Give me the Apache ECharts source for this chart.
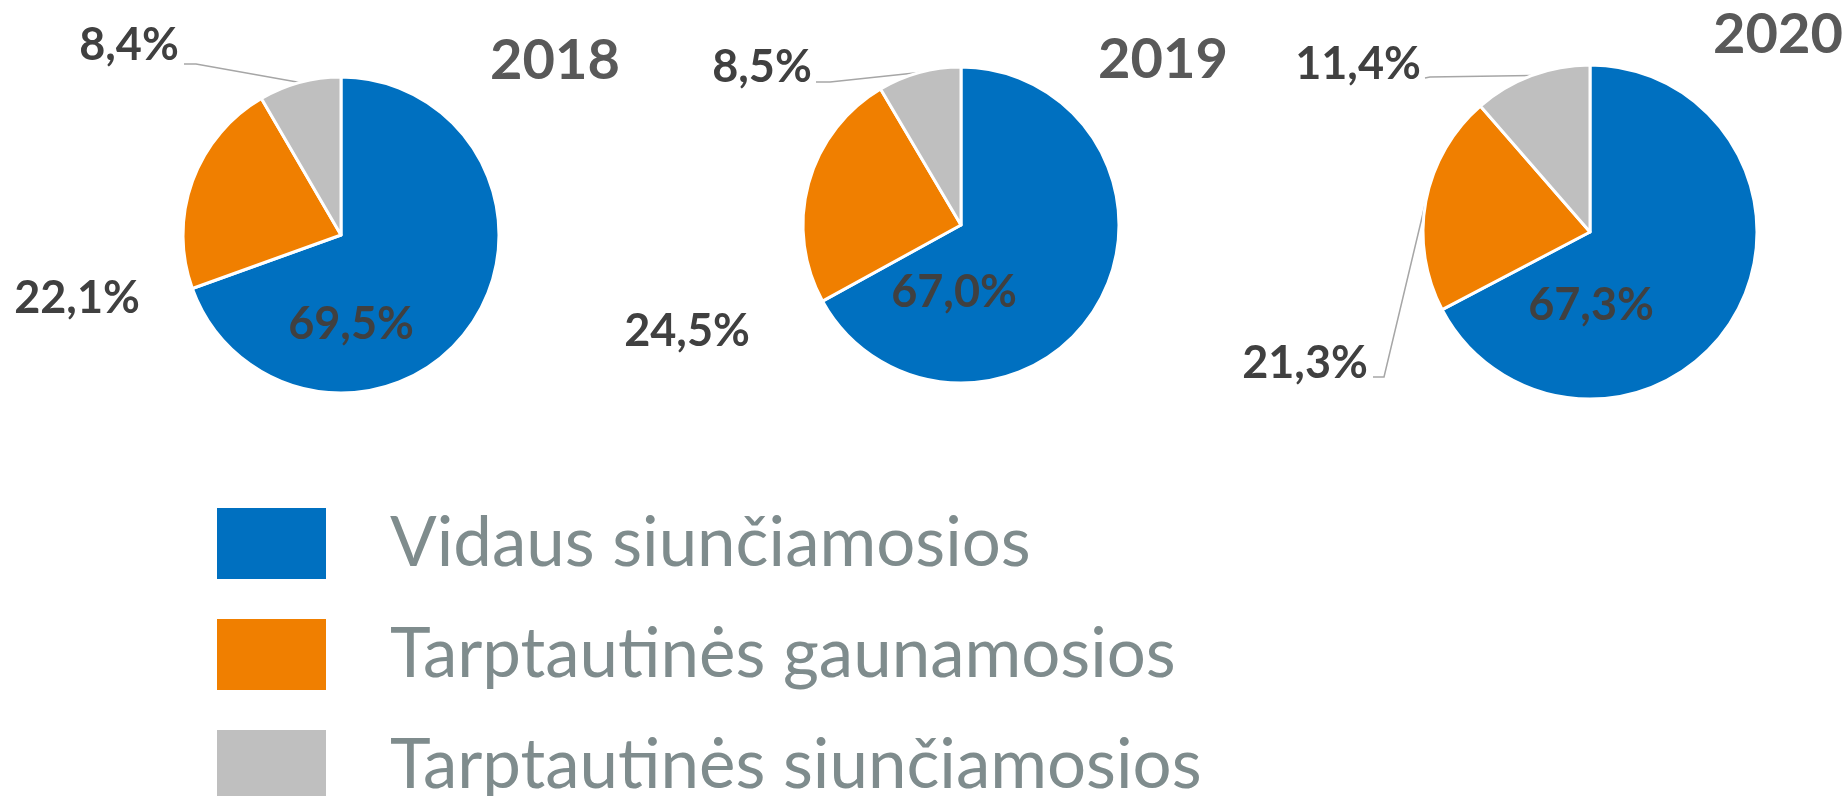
<!DOCTYPE html>
<html>
<head>
<meta charset="utf-8">
<title>Siuntos 2018-2020</title>
<script src="https://cdn.jsdelivr.net/npm/echarts@6/dist/echarts.min.js"></script>
<style>
  html, body { margin: 0; padding: 0; background: #fff; }
  #chart { width: 1845px; height: 796px; }
</style>
</head>
<body>
<div id="chart"></div>
<script>
const years = ["2018", "2019", "2020"];
const categories = ["Vidaus siunčiamosios", "Tarptautinės gaunamosios", "Tarptautinės siunčiamosios"];
const vidausSiunc = [69.5, 67.0, 67.3];
const tarptGaun = [22.1, 24.5, 21.3];
const tarptSiunc = [8.4, 8.5, 11.4];

const colors = ["#0070C0", "#F07F00", "#BFBFBF"];

// pie placement
const pieCenters = [[341, 235], [961, 225], [1590, 232]];
const pieRadius = [158, 158, 167];
const yearPos = [[555, 61], [1163, 60], [1778, 35]];
// label anchors per pie, order: vidaus, gaunamosios, siunciamosios
const labelPos = [
  [[351, 324], [77, 298], [129, 45]],
  [[954, 292], [687, 331], [762, 67]],
  [[1591, 305], [1305, 363], [1358, 64]],
];
// leader lines (elbow, end), null = no line
const leaders = [
  [null, null, [[196, 64], [184, 64]]],
  [null, null, [[830, 82], [816, 82]]],
  [null, [[1384, 377], [1373, 377]], [[1430, 77], [1425, 78]]],
];

const seriesValues = [vidausSiunc, tarptGaun, tarptSiunc];

function fmt(v) {
  return v.toFixed(1).replace(".", ",") + "%";
}

const chart = echarts.init(document.getElementById("chart"));

const series = years.map((year, i) => ({
  type: "pie",
  name: year,
  center: pieCenters[i],
  radius: pieRadius[i],
  startAngle: 90,
  clockwise: true,
  avoidLabelOverlap: false,
  silent: true,
  itemStyle: { borderColor: "#fff", borderWidth: 3 },
  label: {
    show: true,
    formatter: (p) => fmt(p.value),
    fontFamily: "Lato",
    fontWeight: "bold",
    fontSize: 45,
    color: "#404040",
  },
  labelLine: { show: false, lineStyle: { color: "#A6A6A6", width: 1.5 } },
  data: categories.map((name, k) => ({
    name: name,
    value: seriesValues[k][i],
    label: { position: k === 0 ? "inside" : "outside" },
    labelLine: { show: !!leaders[i][k], length: 10, length2: 10 },
  })),
  labelLayout: function (params) {
    const p = labelPos[i][params.dataIndex];
    const res = { x: p[0], y: p[1], align: "center", verticalAlign: "middle" };
    const l = leaders[i][params.dataIndex];
    if (l && params.labelLinePoints) {
      res.labelLinePoints = [params.labelLinePoints[0], l[0], l[1]];
    }
    return res;
  },
}));

chart.setOption({
  animation: false,
  color: colors,
  legend: {
    data: categories,
    orient: "vertical",
    left: 210,
    top: 501,
    height: 360,
    itemWidth: 111,
    itemHeight: 73,
    itemGap: 36,
    icon: "rect",
    selectedMode: false,
    textStyle: {
      fontFamily: "Lato",
      fontSize: 69,
      color: "#7F8C8D",
      padding: [0, 0, 12, 58],
    },
  },
  graphic: years.map((y, i) => ({
    type: "text",
    x: yearPos[i][0],
    y: yearPos[i][1],
    style: {
      text: y,
      fontFamily: "Lato",
      fontWeight: "bold",
      fontSize: 56,
      fill: "#595959",
      align: "center",
      verticalAlign: "middle",
    },
  })),
  series: series,
});
</script>
</body>
</html>
